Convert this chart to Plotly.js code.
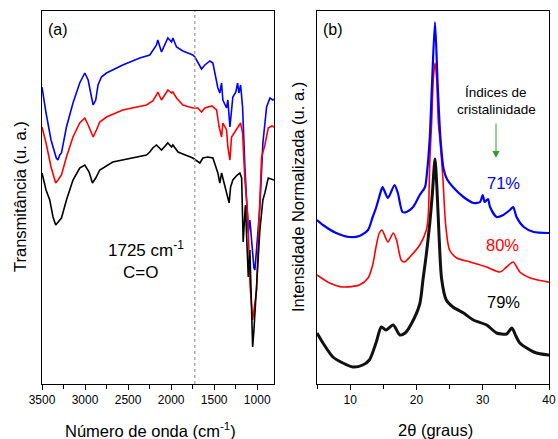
<!DOCTYPE html>
<html>
<head>
<meta charset="utf-8">
<script src="https://cdn.plot.ly/plotly-3.0.1.min.js"></script>
<style>html,body{margin:0;padding:0;background:#fff;}#chart{width:558px;height:439px;}</style>
</head>
<body>
<div id="chart"></div>
<script>
// ---- Panel (a): FTIR (wavenumber in cm-1, transmittance in arbitrary units) ----
const ftirBlueX = [3500,3453,3395,3334,3315,3294,3274,3216,3140,3062,3003,2964,2925,2906,2876,2849,2810,2751,2562,2364,2248,2170,2155,2112,2038,1995,1980,1937,1864,1748,1724,1690,1647,1608,1550,1515,1457,1434,1414,1399,1356,1341,1317,1283,1248,1228,1213,1193,1170,1143,1123,1104,1085,1062,1038,1027,1007,969,934,891,852,818,805];
const ftirBlueY = [297,271,244,226,224,229,231,257,281,301,311,304,287,279,284,299,307,311,319,326,329,339,344,332,346,342,346,337,333,329,327,322,315,319,323,321,296,291,301,284,276,284,257,287,292,301,291,299,277,217,187,151,164,137,116,114,134,177,241,277,286,284,285];

const ftirRedX = [3500,3453,3395,3341,3314,3274,3216,3140,3062,3003,2964,2925,2906,2868,2829,2751,2562,2286,2213,2170,2155,2112,2038,1995,1980,1937,1864,1748,1690,1647,1608,1527,1472,1442,1414,1399,1356,1341,1317,1298,1259,1225,1193,1170,1143,1108,1085,1053,1007,985,962,949,911,872,830,805];
const ftirRedY = [257,241,217,201,204,209,227,247,261,266,259,252,247,254,262,267,274,279,283,289,292,284,294,291,292,286,279,276,276,272,276,278,274,257,247,261,254,237,224,247,252,257,261,251,204,167,101,64,94,150,205,227,239,256,258,257];

const ftirBlackX = [3500,3453,3410,3372,3341,3314,3274,3216,3140,3062,3003,2953,2914,2876,2829,2678,2364,2286,2248,2213,2170,2140,2112,2038,1995,1980,1919,1864,1748,1666,1631,1573,1515,1457,1434,1414,1376,1349,1326,1309,1283,1233,1201,1181,1163,1137,1104,1085,1053,1038,1007,969,934,911,872,830,805];
const ftirBlackY = [211,194,184,167,159,162,166,184,204,216,219,212,201,206,214,222,227,229,232,236,239,236,234,241,237,239,232,230,226,221,226,227,226,211,201,211,197,187,181,197,204,209,211,206,142,179,107,134,37,54,104,154,184,191,206,205,204];

const carbonylWavenumber = 1725;

// ---- Panel (b): XRD (2theta in degrees, normalized intensity) ----
const xrdBlueX = [5.0,5.9,7.9,9.9,11.4,12.7,13.4,13.9,14.7,14.9,15.7,16.7,17.2,17.9,18.5,19.5,20.5,21.3,21.6,22.0,22.35,22.8,23.2,23.6,24.1,24.6,25.5,27.1,28.6,29.6,30.0,30.3,30.8,31.1,32.1,33.1,34.1,34.6,35.1,36.2,37.7,39.9,40.0];
const xrdBlueY = [164,159,151,147,148,154,167,176,194,197,186,199,191,172,172,177,189,197,212,245,300,362,300,248,215,205,197,187,181,182,189,182,185,177,167,169,174,177,167,157,152,151,151];

const xrdRedX = [5.0,6.9,8.9,11.4,12.7,13.4,13.9,14.4,14.8,15.7,16.5,17.0,17.7,18.2,19.0,20.5,21.5,21.8,22.0,22.3,22.55,22.8,23.05,23.3,23.6,24.0,24.4,25.0,26.1,28.1,30.6,32.6,33.6,34.6,35.6,37.2,39.9,40.0];
const xrdRedY = [109,101,97,99,106,119,137,151,154,142,151,144,124,122,127,139,154,170,220,262,305,321,305,262,240,205,160,134,126,122,117,112,117,122,112,106,102,102];

const xrdBlackX = [5.0,5.9,7.4,8.9,10.4,11.9,12.9,13.9,14.7,15.4,16.5,17.5,18.3,19.3,20.5,21.0,21.5,22.0,22.4,22.8,23.1,23.4,23.8,24.5,25.5,27.1,28.6,30.6,32.1,33.6,34.4,35.0,35.6,37.7,39.9,40.0];
const xrdBlackY = [51,41,27,21,17,19,24,41,57,54,59,49,51,61,80,105,130,160,190,225,195,150,105,84,77,71,64,59,51,50,56,48,41,32,29,29];

const crystallinityLabels = ['71%', '80%', '79%'];

// ---------------------------------------------------------------
const W = 558, H = 439;
const FONT = 'Liberation Sans, Arial, sans-serif';
const px = v => v / W;
const py = v => 1 - v / H;

const traces = [
  {x: ftirBlueX, y: ftirBlueY, xaxis: 'x', yaxis: 'y', mode: 'lines', line: {color: '#0000ff', width: 1.6}},
  {x: ftirRedX, y: ftirRedY, xaxis: 'x', yaxis: 'y', mode: 'lines', line: {color: '#ff0000', width: 1.6}},
  {x: ftirBlackX, y: ftirBlackY, xaxis: 'x', yaxis: 'y', mode: 'lines', line: {color: '#000000', width: 1.6}},
  {x: xrdBlackX, y: xrdBlackY, xaxis: 'x2', yaxis: 'y2', mode: 'lines', line: {color: '#111111', width: 3, shape: 'spline', smoothing: 0.7}},
  {x: xrdRedX, y: xrdRedY, xaxis: 'x2', yaxis: 'y2', mode: 'lines', line: {color: '#ff0000', width: 1.6, shape: 'spline', smoothing: 0.7}},
  {x: xrdBlueX, y: xrdBlueY, xaxis: 'x2', yaxis: 'y2', mode: 'lines', line: {color: '#0000ff', width: 2.2, shape: 'spline', smoothing: 0.7}}
];

function ann(text, x, y, size, color, extra) {
  return Object.assign({
    text: text, xref: 'paper', yref: 'paper', x: px(x), y: py(y),
    xanchor: 'center', yanchor: 'middle', showarrow: false,
    font: {family: FONT, size: size, color: color || 'rgb(0,0,0)'}
  }, extra || {});
}

const yDomain = [py(384), py(11)];
const axisCommon = {
  showline: true, linecolor: '#000', linewidth: 1, mirror: true,
  showgrid: false, zeroline: false,
  tickfont: {family: FONT, size: 12, color: '#000'}
};

const layout = {
  width: W, height: H,
  margin: {l: 0, r: 0, t: 0, b: 0},
  paper_bgcolor: '#fff', plot_bgcolor: '#fff',
  showlegend: false,
  font: {family: FONT, color: '#000'},
  xaxis: Object.assign({}, axisCommon, {
    domain: [px(42), px(274)], range: [3500, 805], anchor: 'y',
    dtick: 500, tick0: 0, ticks: 'outside', ticklen: 5, tickcolor: '#000',
    minor: {dtick: 250, tick0: 0, ticks: 'outside', ticklen: 4, tickcolor: '#000'}
  }),
  yaxis: Object.assign({}, axisCommon, {
    domain: yDomain, range: [0, 373], anchor: 'x', showticklabels: false, ticks: ''
  }),
  xaxis2: Object.assign({}, axisCommon, {
    domain: [px(317), px(549)], range: [5, 40], anchor: 'y2',
    dtick: 10, tick0: 0, ticks: 'outside', ticklen: 5, tickcolor: '#000',
    minor: {dtick: 5, tick0: 0, ticks: 'outside', ticklen: 4, tickcolor: '#000'}
  }),
  yaxis2: Object.assign({}, axisCommon, {
    domain: yDomain, range: [0, 373], anchor: 'x2', showticklabels: false, ticks: ''
  }),
  shapes: [{
    type: 'line', xref: 'x', yref: 'y domain', x0: carbonylWavenumber, x1: carbonylWavenumber,
    y0: 0, y1: 1, line: {color: '#a0a0a0', width: 1.3, dash: 'dot'}
  }],
  annotations: [
    ann('(a)', 58, 29, 16),
    ann('(b)', 333, 29, 16),
    ann('1725 cm<sup>-1</sup>', 146, 249, 17),
    ann('C=O', 140, 272, 17),
    ann('Número de onda (cm<sup>-1</sup>)', 150, 430, 16.5),
    ann('2θ (graus)', 435, 430, 16.5),
    ann('Transmitância (u. a.)', 20, 197, 16.5, 'rgb(0,0,0)', {textangle: -90}),
    ann('Intensidade Normalizada (u. a.)', 298, 197, 16.5, 'rgb(0,0,0)', {textangle: -90}),
    ann('Índices de', 496, 92, 13.5),
    ann('cristalinidade', 496, 110, 13.5),
    {text: '', xref: 'paper', yref: 'paper', x: px(496), y: py(158), ax: 0, ay: -36,
     showarrow: true, arrowhead: 2, arrowsize: 1.4, arrowwidth: 1, arrowcolor: '#2f9e2f'},
    ann(crystallinityLabels[0], 503, 183, 16.5, '#0000ff'),
    ann(crystallinityLabels[1], 502, 245, 16.5, '#ff0000'),
    ann(crystallinityLabels[2], 503, 302, 16.5, 'rgb(0,0,0)')
  ]
};

Plotly.newPlot('chart', traces, layout, {displayModeBar: false, staticPlot: true});
</script>
</body>
</html>
